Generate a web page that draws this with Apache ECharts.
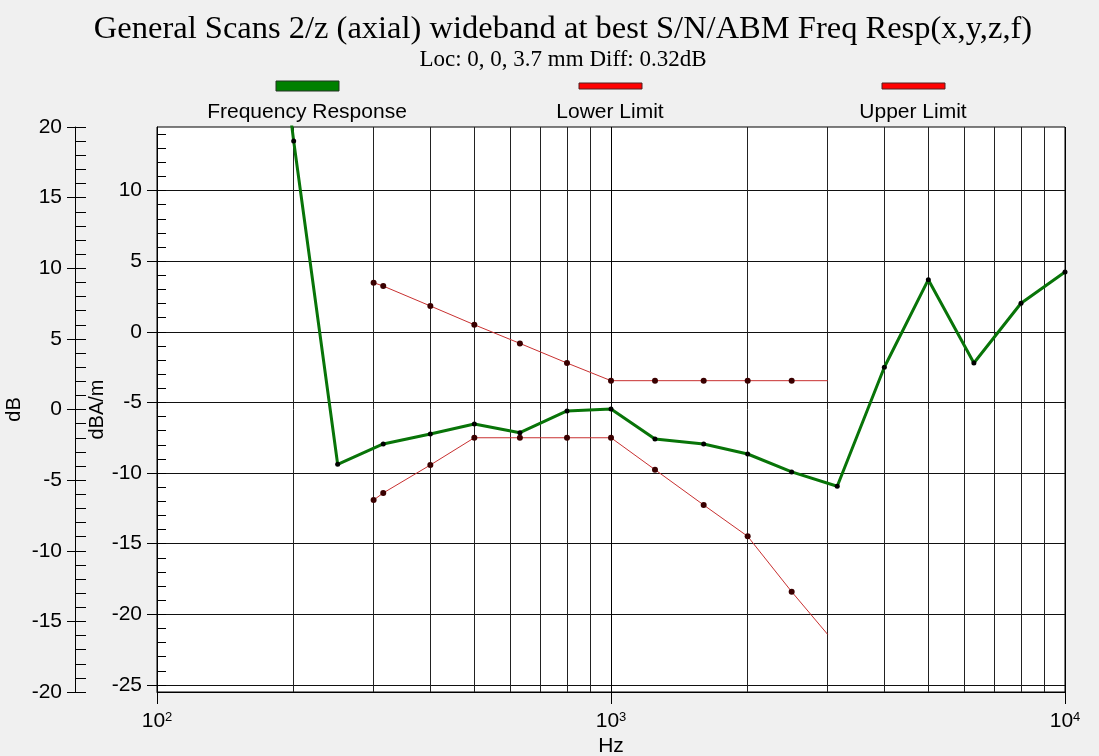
<!DOCTYPE html>
<html>
<head>
<meta charset="utf-8">
<title>Freq Resp</title>
<script src="https://cdn.jsdelivr.net/npm/echarts@6/dist/echarts.min.js"></script>
<style>
  html, body { margin: 0; padding: 0; background: #f0f0f0; }
  #main { width: 1099px; height: 756px; }
</style>
</head>
<body>
<div id="main"></div>
<script>
  // measured response, dBA/m
  var respFreqs = [160, 200, 250, 315, 400, 500, 630, 800, 1000, 1250, 1600, 2000, 2500, 3150, 4000, 5000, 6300, 8000, 10000];
  var respValues = [38.5, 13.51, -9.38, -7.94, -7.23, -6.53, -7.14, -5.60, -5.46, -7.59, -7.94, -8.65, -9.92, -10.93, -2.51, 3.69, -2.21, 2.02, 4.23];

  // limit curves
  var limitFreqs = [300, 315, 400, 500, 630, 800, 1000, 1250, 1600, 2000, 2500, 3000];
  var lowerValues = [-11.91, -11.41, -9.43, -7.50, -7.50, -7.50, -7.50, -9.76, -12.26, -14.48, -18.40, -21.42];
  var upperValues = [3.48, 3.24, 1.83, 0.50, -0.82, -2.21, -3.46, -3.46, -3.46, -3.46, -3.46, -3.46];

  // axis ticks
  var minorFreqs = [200, 300, 400, 500, 600, 700, 800, 900, 2000, 3000, 4000, 5000, 6000, 7000, 8000, 9000];
  var innerTicks = [-25, -20, -15, -10, -5, 0, 5, 10];
  var innerMinor = [];
  for (var t = -25; t <= 14; t++) innerMinor.push(t);

  var sans = "'Liberation Sans', Arial, sans-serif";
  var serif = "'Liberation Serif', 'Times New Roman', serif";

  function pairs(xs, ys, lastPlain) {
    return xs.map(function (x, i) {
      var p = { value: [x, ys[i]] };
      if (lastPlain && i === xs.length - 1) p.symbol = 'none';
      return p;
    });
  }

  var chart = echarts.init(document.getElementById('main'));
  chart.setOption({
    backgroundColor: '#f0f0f0',
    animation: false,
    title: {
      text: 'General Scans 2/z (axial) wideband at best S/N/ABM Freq Resp(x,y,z,f)',
      subtext: 'Loc: 0, 0, 3.7 mm Diff: 0.32dB',
      left: 558,
      textAlign: 'center',
      top: 8,
      itemGap: 2,
      textStyle: { fontFamily: serif, fontSize: 32.5, fontWeight: 'normal', color: '#000' },
      subtextStyle: { fontFamily: serif, fontSize: 23, color: '#000' }
    },
    graphic: [
      { type: 'rect', shape: { x: 276, y: 81, width: 63, height: 10 }, style: { fill: '#008000', stroke: '#223322', lineWidth: 1 } },
      { type: 'rect', shape: { x: 579, y: 83, width: 63, height: 6 }, style: { fill: '#ff0000', stroke: '#502020', lineWidth: 1 } },
      { type: 'rect', shape: { x: 882, y: 83, width: 63, height: 6 }, style: { fill: '#ff0000', stroke: '#502020', lineWidth: 1 } },
      { type: 'text', x: 307, y: 112, style: { text: 'Frequency Response', fontFamily: sans, fontSize: 21, fill: '#000', align: 'center', verticalAlign: 'middle' } },
      { type: 'text', x: 610, y: 112, style: { text: 'Lower Limit', fontFamily: sans, fontSize: 21, fill: '#000', align: 'center', verticalAlign: 'middle' } },
      { type: 'text', x: 913, y: 112, style: { text: 'Upper Limit', fontFamily: sans, fontSize: 21, fill: '#000', align: 'center', verticalAlign: 'middle' } }
    ],
    grid: {
      left: 157, top: 127, right: 34, bottom: 64,
      show: true, backgroundColor: '#fff', borderColor: '#000', borderWidth: 1,
      outerBoundsMode: 'none'
    },
    xAxis: {
      type: 'log',
      logBase: 10,
      min: 100,
      max: 10000,
      name: 'Hz',
      nameLocation: 'middle',
      nameGap: 44,
      nameMoveOverlap: false,
      nameTextStyle: { fontFamily: sans, fontSize: 21, color: '#000' },
      axisLine: { onZero: false, lineStyle: { color: '#000' } },
      axisTick: { length: 12, lineStyle: { color: '#000' } },
      axisLabel: {
        fontFamily: sans, fontSize: 21, color: '#000', margin: 19,
        formatter: function (v) { return '10{sup|' + Math.round(Math.log10(v)) + '}'; },
        rich: { sup: { fontFamily: sans, fontSize: 13, verticalAlign: 'top', color: '#000' } }
      },
      splitLine: { show: true, lineStyle: { color: '#000', width: 1 } }
    },
    yAxis: [
      {
        // dBA/m, carries the data
        type: 'value', position: 'left', offset: 0,
        min: -25.5, max: 14.5,
        name: 'dBA/m', nameLocation: 'middle', nameGap: 50, nameMoveOverlap: false,
        nameTextStyle: { fontFamily: sans, fontSize: 20, color: '#000' },
        axisLine: { show: true, onZero: false, lineStyle: { color: '#000' } },
        axisTick: { show: true, length: 10, customValues: innerTicks, lineStyle: { color: '#000' } },
        axisLabel: { fontFamily: sans, fontSize: 21, color: '#000', margin: 15, customValues: innerTicks },
        splitLine: { show: true, lineStyle: { color: '#111', width: 1 } }
      },
      {
        type: 'value', position: 'left', offset: 0,
        min: -25.5, max: 14.5,
        axisLine: { show: false, onZero: false },
        axisTick: { show: true, inside: true, length: 9, customValues: innerMinor, lineStyle: { color: '#000' } },
        axisLabel: { show: false },
        splitLine: { show: false }
      },
      {
        // dB
        type: 'value', position: 'left', offset: 82,
        min: -20, max: 20, interval: 5,
        name: 'dB', nameLocation: 'middle', nameGap: 51, nameMoveOverlap: false,
        nameTextStyle: { fontFamily: sans, fontSize: 20, color: '#000' },
        axisLine: { show: true, onZero: false, lineStyle: { color: '#000' } },
        axisTick: { show: true, length: 8, lineStyle: { color: '#000' } },
        axisLabel: { fontFamily: sans, fontSize: 21, color: '#000', margin: 13 },
        splitLine: { show: false }
      },
      {
        type: 'value', position: 'left', offset: 82,
        min: -20, max: 20, interval: 1,
        axisLine: { show: false, onZero: false },
        axisTick: { show: true, inside: true, length: 11, lineStyle: { color: '#000' } },
        axisLabel: { show: false },
        splitLine: { show: false }
      }
    ],
    series: [
      {
        name: 'Frequency Response',
        type: 'line',
        yAxisIndex: 0,
        data: pairs(respFreqs, respValues, false),
        symbol: 'circle',
        symbolSize: 5,
        z: 4,
        lineStyle: { color: '#087408', width: 3 },
        itemStyle: { color: '#000' },
        markLine: {
          silent: true,
          symbol: 'none',
          z: 1,
          label: { show: false },
          lineStyle: { color: '#222', width: 1, type: 'solid' },
          data: minorFreqs.map(function (f) { return { xAxis: f }; })
        }
      },
      {
        name: 'Lower Limit',
        type: 'line',
        yAxisIndex: 0,
        data: pairs(limitFreqs, lowerValues, true),
        symbol: 'circle',
        symbolSize: 6,
        z: 3,
        lineStyle: { color: '#c83030', width: 1 },
        itemStyle: { color: '#3a0000' }
      },
      {
        name: 'Upper Limit',
        type: 'line',
        yAxisIndex: 0,
        data: pairs(limitFreqs, upperValues, true),
        symbol: 'circle',
        symbolSize: 6,
        z: 3,
        lineStyle: { color: '#c83030', width: 1 },
        itemStyle: { color: '#3a0000' }
      }
    ]
  });
</script>
</body>
</html>
